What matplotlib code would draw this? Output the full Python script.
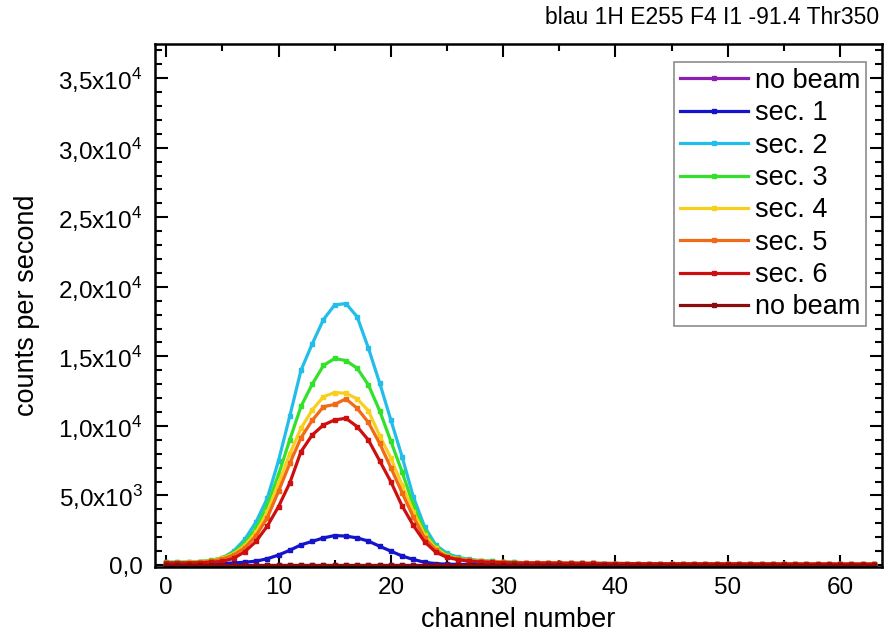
import matplotlib
matplotlib.use("Agg")
import matplotlib.pyplot as plt
from matplotlib.ticker import MultipleLocator, FixedLocator

plt.rcParams['font.family'] = ['Liberation Sans', 'DejaVu Sans']
plt.rcParams['mathtext.fontset'] = 'custom'
plt.rcParams['mathtext.rm'] = 'Liberation Sans'

channels = list(range(64))

tail_a = [150, 140, 130, 125, 120, 115, 110, 110, 105, 100, 100, 95, 95, 90, 90, 90, 85, 85, 85, 80, 80, 80, 80, 75, 75, 75, 75, 70, 70, 70, 70]

no_beam_1 = [20] * 64
sec1 = [30, 30, 35, 40, 60, 100, 150, 200, 280, 450, 720, 1060, 1450, 1700, 1950, 2120, 2080, 1950, 1720, 1350,
        1000, 650, 400, 200, 100, 60, 45, 40, 40, 35, 35, 30, 30] + [30] * 31
sec2 = [200, 200, 210, 240, 300, 500, 1000, 1850, 3100, 4800, 7500, 10700, 14000, 15900, 17650, 18700, 18800, 17850, 15600, 13100,
        10430, 7790, 4910, 2760, 1440, 840, 550, 400, 320, 270, 230, 200, 170] + tail_a
sec3 = [200, 200, 210, 250, 340, 530, 900, 1600, 2650, 4300, 6500, 9000, 11400, 13000, 14350, 14850, 14700, 14150, 12950, 11100,
        8900, 6700, 4300, 2400, 1300, 720, 480, 370, 300, 260, 230, 190, 160] + tail_a
sec4 = [180, 180, 190, 220, 300, 480, 800, 1400, 2350, 3800, 5900, 8000, 9830, 11150, 12100, 12400, 12350, 11950, 11100, 9300,
        7700, 5750, 3840, 2160, 1200, 650, 450, 340, 280, 240, 200, 170, 150] + tail_a
sec5 = [160, 160, 170, 200, 270, 430, 720, 1250, 2100, 3400, 5300, 7300, 9150, 10400, 11380, 11550, 11950, 11270, 10250, 8750,
        7000, 5200, 3450, 1950, 1080, 600, 430, 330, 270, 230, 200, 170, 150] + tail_a
sec6 = [150, 150, 150, 160, 200, 260, 480, 960, 1700, 2800, 4200, 5900, 8150, 9350, 10070, 10430, 10550, 9950, 8990, 7500,
        5990, 4250, 2850, 1680, 920, 550, 380, 270, 220, 190, 170, 150, 140] + tail_a
no_beam_2 = [0] * 64

labels = ['no beam', 'sec. 1', 'sec. 2', 'sec. 3', 'sec. 4', 'sec. 5', 'sec. 6', 'no beam']
series = [no_beam_1, sec1, sec2, sec3, sec4, sec5, sec6, no_beam_2]
colors = ['#8a1fb0', '#1414cc', '#22bde8', '#33e02a', '#f8cf1e', '#f06a18', '#cc1010', '#8a0c0c']

yticks = [0, 5000, 10000, 15000, 20000, 25000, 30000, 35000]
ytick_labels = ['0,0', r'5,0x10$^{3}$', r'1,0x10$^{4}$', r'1,5x10$^{4}$', r'2,0x10$^{4}$',
                r'2,5x10$^{4}$', r'3,0x10$^{4}$', r'3,5x10$^{4}$']
xticks = [0, 10, 20, 30, 40, 50, 60]

fig = plt.figure(figsize=(8.84, 6.33), dpi=100)
ax = fig.add_axes([0.1753, 0.1043, 0.8221, 0.8262])

for lab, ys, c in zip(labels, series, colors):
    ax.plot(channels, ys, color=c, lw=2.3, marker='s', ms=2.6, mec=c, mfc=c, label=lab)

ax.set_xlim(-1, 63.7)
ax.set_ylim(-140, 37460)
ax.xaxis.set_major_locator(FixedLocator(xticks))
ax.xaxis.set_minor_locator(MultipleLocator(5))
ax.yaxis.set_major_locator(FixedLocator(yticks))
ax.yaxis.set_minor_locator(MultipleLocator(1000))
ax.set_yticklabels(ytick_labels)
ax.set_xticklabels([str(x) for x in xticks])
ax.tick_params(which='both', direction='in', top=True, right=True, width=1.5, labelsize=17.5, colors='black')
ax.tick_params(which='major', length=9)
ax.tick_params(axis='y', which='major', pad=9)
ax.tick_params(axis='x', which='major', pad=7)
ax.tick_params(which='minor', length=5)
for s in ax.spines.values():
    s.set_linewidth(1.8)

ax.set_xlabel('channel number', fontsize=19.5, labelpad=6)
ax.set_ylabel('counts per second', fontsize=19.5, labelpad=13)
fig.text(0.995, 0.972, 'blau 1H E255 F4 I1 -91.4 Thr350', ha='right', va='center', fontsize=16.5)

leg = ax.legend(loc='upper right', bbox_to_anchor=(0.9784, 0.9656), fontsize=19.5, frameon=True, fancybox=False,
                handlelength=2.5, handletextpad=0.25, labelspacing=0.235, borderpad=0.22, borderaxespad=0.0)
leg.get_frame().set_edgecolor('#707070')
leg.get_frame().set_linewidth(1.2)

fig.savefig('out.png', dpi=100)
